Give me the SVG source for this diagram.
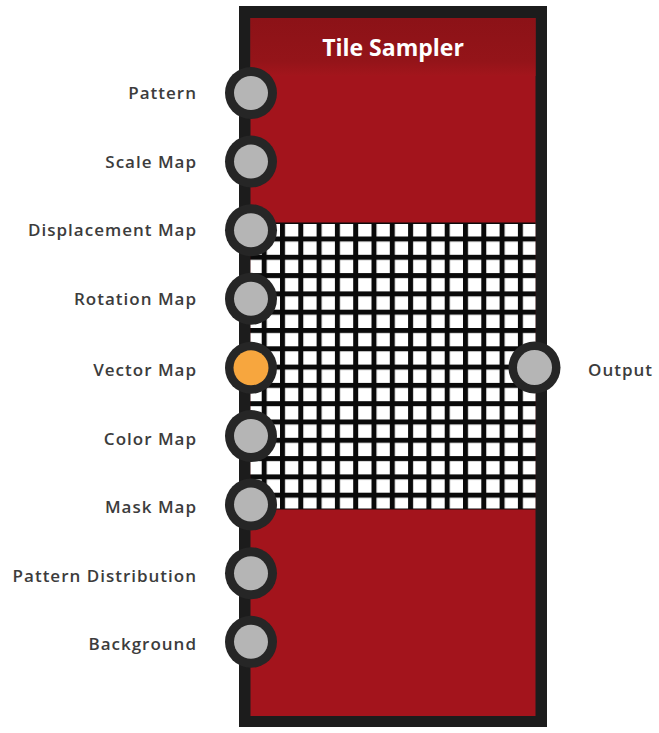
<svg xmlns="http://www.w3.org/2000/svg" width="659" height="733" viewBox="0 0 659 733">
<style>
.lbl{font-family:"Open Sans","Liberation Sans",sans-serif;font-weight:600;font-size:17px;fill:#3c3c3c;letter-spacing:1px}
.ring{fill:#262626}
.in{fill:#b5b5b5}
.title{font-family:"Open Sans","Liberation Sans",sans-serif;font-weight:700;font-size:23px;fill:#ffffff}
</style>
<defs>
<linearGradient id="hdr" x1="0" y1="0" x2="0" y2="1">
<stop offset="0" stop-color="#8c1217"/>
<stop offset="0.75" stop-color="#941419"/>
<stop offset="1" stop-color="#a3151c"/>
</linearGradient>
<pattern id="grid" patternUnits="userSpaceOnUse" x="261.7" y="236.5" width="18.3" height="18.3">
<rect width="18.3" height="18.3" fill="#ffffff"/>
<rect width="5" height="18.3" fill="#0a0a0a"/>
<rect width="18.3" height="5" fill="#0a0a0a"/>
</pattern>
</defs>
<g id="tile-sampler">
<rect x="239" y="6" width="308" height="721" fill="#1c1c1c"/>
<rect x="250.5" y="18" width="285" height="698" fill="#a3141c"/>
<rect x="250.5" y="18" width="285" height="58" fill="url(#hdr)"/>
<rect x="250.5" y="222.5" width="285" height="287" fill="#0a0a0a"/>
<rect x="250.5" y="224" width="285" height="284.5" fill="url(#grid)"/>
<text class="title" x="393" y="56" text-anchor="middle">Tile Sampler</text>
</g>
<g id="connectors"/>
<g id="port-pattern"><circle class="ring" cx="251" cy="93" r="26"/><circle class="in" cx="251" cy="93" r="17"/><text class="lbl" x="197" y="99" text-anchor="end">Pattern</text></g>
<g id="port-scale-map"><circle class="ring" cx="251" cy="161.6" r="26"/><circle class="in" cx="251" cy="161.6" r="17"/><text class="lbl" x="197" y="167.6" text-anchor="end">Scale Map</text></g>
<g id="port-displacement-map"><circle class="ring" cx="251" cy="230.2" r="26"/><circle class="in" cx="251" cy="230.2" r="17"/><text class="lbl" x="197" y="236.2" text-anchor="end">Displacement Map</text></g>
<g id="port-rotation-map"><circle class="ring" cx="251" cy="298.8" r="26"/><circle class="in" cx="251" cy="298.8" r="17"/><text class="lbl" x="197" y="304.8" text-anchor="end">Rotation Map</text></g>
<g id="port-vector-map"><circle class="ring" cx="251" cy="367.8" r="26"/><circle cx="251" cy="367.8" r="17.5" fill="#f7a63e"/><text class="lbl" x="197" y="376" text-anchor="end">Vector Map</text></g>
<g id="port-color-map"><circle class="ring" cx="251" cy="436" r="26"/><circle class="in" cx="251" cy="436" r="17"/><text class="lbl" x="197" y="444.6" text-anchor="end">Color Map</text></g>
<g id="port-mask-map"><circle class="ring" cx="251" cy="504.6" r="26"/><circle class="in" cx="251" cy="504.6" r="17"/><text class="lbl" x="197" y="513.2" text-anchor="end">Mask Map</text></g>
<g id="port-pattern-distribution"><circle class="ring" cx="251" cy="573.2" r="26"/><circle class="in" cx="251" cy="573.2" r="17"/><text class="lbl" x="197" y="581.8" text-anchor="end">Pattern Distribution</text></g>
<g id="port-background"><circle class="ring" cx="251" cy="641.8" r="26"/><circle class="in" cx="251" cy="641.8" r="17"/><text class="lbl" x="197" y="650.4" text-anchor="end">Background</text></g>
<g id="port-output"><circle class="ring" cx="534.5" cy="367.5" r="26"/><circle class="in" cx="534.5" cy="367.5" r="17.5"/><text class="lbl" x="588" y="376" text-anchor="start">Output</text></g>
</svg>
